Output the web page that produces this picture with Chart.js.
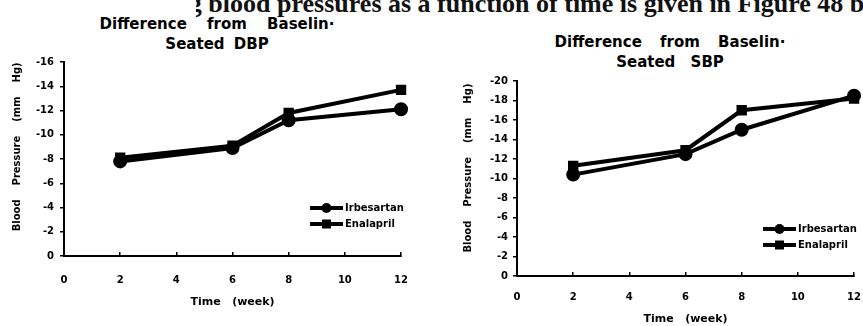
<!DOCTYPE html>
<html><head><meta charset="utf-8">
<script src="https://cdn.jsdelivr.net/npm/chart.js@4/dist/chart.umd.min.js"></script>
<style>
html,body{margin:0;padding:0;background:#fff;width:863px;height:326px;overflow:hidden;position:relative}
.t{position:absolute;font-family:"DejaVu Sans",sans-serif;font-weight:bold;font-size:15px;color:#000;white-space:pre;line-height:1;transform:translate(-50%,-50%)}
#sent{position:absolute;left:196px;top:0;width:667px;height:24px;overflow:hidden}
#sent span{position:absolute;top:-9px;white-space:pre;font-family:"Liberation Serif",serif;font-weight:bold;font-size:26px;line-height:26px;color:#111}
canvas{position:absolute;top:0}
</style>
</head><body>
<div id="sent"><span style="right:586px">The change in sitting blood </span><span style="left:81px">pressures as a function of time is given in Figure 48 before</span></div>
<div class="t" style="left:217px;top:24px;word-spacing:15px">Difference from Baselin·</div>
<div class="t" style="left:217px;top:44px;word-spacing:4px">Seated DBP</div>
<div class="t" style="left:670px;top:42px;word-spacing:13px">Difference from Baselin·</div>
<div class="t" style="left:670px;top:62px;word-spacing:10px">Seated SBP</div>
<canvas id="c1" width="430" height="326" style="left:0"></canvas>
<canvas id="c2" width="450" height="326" style="left:430px"></canvas>
<script>
// ---- data ----
const weeks = [2, 6, 8, 12];
const xTicks = [0, 2, 4, 6, 8, 10, 12];
const seriesNames = ['Irbesartan', 'Enalapril'];
const dbpIrbesartan = [-7.8, -8.9, -11.2, -12.1];
const dbpEnalapril  = [-8.1, -9.1, -11.8, -13.7];
const sbpIrbesartan = [-10.4, -12.5, -15.0, -18.5];
const sbpEnalapril  = [-11.3, -12.9, -17.0, -18.2];

function pts(vals){ return weeks.map((w,i)=>({x:w, y:vals[i]})); }

const cornerLegend = {
  id:'cornerLegend',
  afterDatasetsDraw(chart, args, o){
    const ctx = chart.ctx;
    ctx.save();
    chart.data.datasets.forEach((ds,i)=>{
      const y = o.y + i*o.dy, x0 = o.x, x1 = o.x + o.len, cx = (x0+x1)/2;
      ctx.strokeStyle = ds.borderColor; ctx.lineWidth = ds.borderWidth;
      ctx.beginPath(); ctx.moveTo(x0,y); ctx.lineTo(x1,y); ctx.stroke();
      ctx.fillStyle = ds.pointBackgroundColor;
      const r = ds.pointRadius;
      if (ds.pointStyle === 'rect') ctx.fillRect(cx-r, y-r, 2*r, 2*r);
      else { ctx.beginPath(); ctx.arc(cx, y, r, 0, Math.PI*2); ctx.fill(); }
      ctx.font = o.font; ctx.textBaseline = 'middle'; ctx.textAlign = 'left';
      ctx.fillStyle = '#000';
      ctx.fillText(ds.label, x1 + 2, y);
    });
    ctx.restore();
  }
};

const bold = (size)=>({family:'DejaVu Sans', weight:'bold', size:size});

function build(id, irb, ena, L){
  const ds = (label, vals, style, r)=>({
    label, data: pts(vals), borderColor:'#000', backgroundColor:'#000',
    pointBackgroundColor:'#000', pointBorderColor:'#000', borderWidth:4,
    pointRadius:r, pointStyle:style, clip:false, tension:0
  });
  return new Chart(document.getElementById(id), {
    type:'line',
    data:{datasets:[ ds(seriesNames[0], irb, 'circle', 5), ds(seriesNames[1], ena, 'rect', 4.5) ]},
    options:{
      responsive:false, animation:false, devicePixelRatio:1,
      layout:{padding:{left:0, top:L.top, right:L.right, bottom:0}},
      plugins:{
        legend:{display:false}, title:{display:false}, tooltip:{enabled:false},
        cornerLegend:{x:L.lx, y:L.ly, dy:16, len:33, font:'bold 10px "DejaVu Sans"'}
      },
      scales:{
        x:{
          type:'linear', min:0, max:12, position:'bottom',
          afterFit(s){ s.height = L.xh; },
          afterBuildTicks(s){ s.ticks = xTicks.map(v=>({value:v})); },
          ticks:{padding:L.xpad, color:'#000', font:bold(10), maxRotation:0, autoSkip:false},
          grid:{drawOnChartArea:false, drawTicks:true, tickLength:-4, color:'#000', lineWidth:1.5},
          border:{display:true, color:'#000', width:2},
          title:{display:true, text:'Time   (week)', color:'#000', font:bold(11), padding:{top:0, bottom:L.xtb}}
        },
        y:{
          type:'linear', min:L.ymin, max:0, reverse:true,
          afterFit(s){ s.width = L.yw; },
          ticks:{stepSize:2, padding:L.ypad, color:'#000', font:bold(10), autoSkip:false},
          grid:{drawOnChartArea:false, drawTicks:true, tickLength:4, color:'#000', lineWidth:1.5},
          border:{display:true, color:'#000', width:2},
          title:{display:true, text:L.ytitle, color:'#000', font:bold(10), padding:{top:L.ytp, bottom:0}}
        }
      }
    },
    plugins:[cornerLegend]
  });
}

build('c1', dbpIrbesartan, dbpEnalapril, {
  top:62, right:23, xh:70, yw:64, ymin:-16, xpad:22, xtb:17, ypad:6, ytp:11,
  lx:310, ly:208, ytitle:'       Blood    Pressure    (mm    Hg)'
});
build('c2', sbpIrbesartan, sbpEnalapril, {
  top:81, right:16, xh:50, yw:87, ymin:-20, xpad:19, xtb:0, ypad:5, ytp:32,
  lx:333, ly:229, ytitle:'      Blood    Pressure    (mm    Hg)'
});
</script>
</body></html>
